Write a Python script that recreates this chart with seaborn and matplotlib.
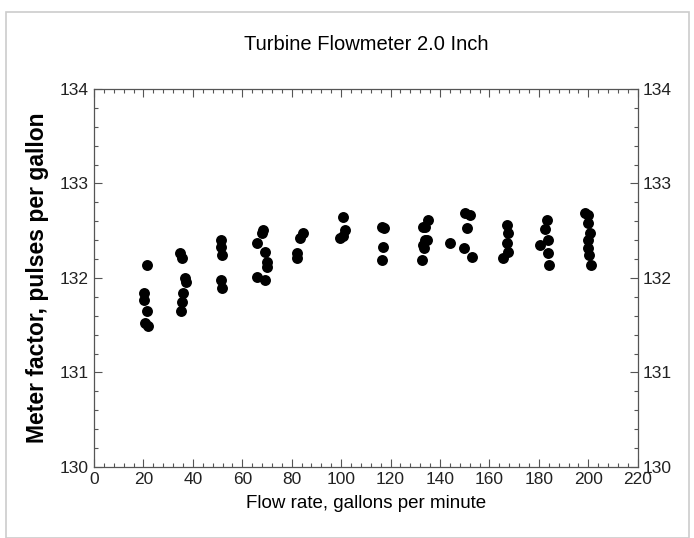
import numpy as np
import pandas as pd
import matplotlib
matplotlib.use('Agg')
import matplotlib.pyplot as plt
from matplotlib.ticker import MultipleLocator
from matplotlib.patches import Rectangle
import seaborn as sns

# readings
flow = [
    21.4, 20.2, 20.4, 21.6, 20.6, 21.8,
    34.8, 35.6, 36.8, 37.2, 36.0, 35.6, 35.2,
    51.4, 51.4, 51.8, 51.2, 51.8,
    68.3, 68.0, 65.9, 69.2, 70.0, 70.0, 65.9, 69.2,
    84.5, 83.5, 82.0, 82.0,
    100.7, 101.5, 99.6, 100.6,
    116.5, 117.2, 116.9, 116.5,
    133.0, 133.8, 133.0, 132.6, 135.0, 133.8, 134.6, 133.4,
    150.0, 152.0, 151.0, 144.2, 149.8, 152.9,
    167.0, 167.4, 167.0, 167.4, 165.4,
    183.2, 182.4, 183.6, 180.3, 183.6, 184.0,
    198.5, 199.7, 199.7, 200.5, 199.7, 199.7, 200.1, 201.0,
]
factor = [
    132.14, 131.84, 131.77, 131.65, 131.52, 131.49,
    132.26, 132.21, 132.00, 131.96, 131.84, 131.75, 131.65,
    132.40, 132.33, 132.24, 131.98, 131.89,
    132.51, 132.48, 132.37, 132.28, 132.17, 132.12, 132.01, 131.98,
    132.48, 132.42, 132.26, 132.21,
    132.65, 132.51, 132.42, 132.44,
    132.54, 132.53, 132.33, 132.19,
    132.54, 132.40, 132.35, 132.19, 132.61, 132.54, 132.40, 132.32,
    132.69, 132.67, 132.53, 132.37, 132.32, 132.22,
    132.56, 132.48, 132.37, 132.28, 132.21,
    132.61, 132.52, 132.40, 132.35, 132.26, 132.14,
    132.69, 132.67, 132.58, 132.48, 132.40, 132.32, 132.24, 132.14,
]
x_ticks = list(range(0, 221, 20))
y_ticks = [130, 131, 132, 133, 134]

df = pd.DataFrame({"flow": flow, "factor": factor})

sns.set_theme(style="ticks")
plt.rcParams['font.family'] = ['Liberation Sans', 'DejaVu Sans']
plt.rcParams['text.color'] = 'black'
plt.rcParams['axes.labelcolor'] = 'black'
plt.rcParams['xtick.labelcolor'] = '#222222'
plt.rcParams['ytick.labelcolor'] = '#222222'

fig = plt.figure(figsize=(6.94, 5.38), dpi=100, facecolor="white")
ax = fig.add_axes([0.1354, 0.132, 0.7836, 0.7026])

sns.scatterplot(data=df, x="flow", y="factor", ax=ax,
                color="black", s=62, edgecolor="black", linewidth=0)

ax.set_xlim(0, 220)
ax.set_ylim(130, 134)
ax.set_xticks(x_ticks)
ax.set_yticks(y_ticks)
ax.xaxis.set_minor_locator(MultipleLocator(4))
ax.yaxis.set_minor_locator(MultipleLocator(0.2))
ax.tick_params(which="both", direction="in", top=True, right=True,
               labelright=True, color="#555555", labelsize=12.5)
ax.tick_params(which="major", length=6, width=0.8)
ax.tick_params(which="minor", length=3, width=0.8)
for sp in ax.spines.values():
    sp.set_color("#555555")
    sp.set_linewidth(0.9)

ax.set_title("Turbine Flowmeter 2.0 Inch", fontsize=14.5, pad=28)
ax.set_xlabel("Flow rate, gallons per minute", fontsize=13.5, labelpad=6)
ax.set_ylabel("Meter factor, pulses per gallon", fontsize=16.5,
              fontweight="bold", labelpad=8)

# light frame around the whole graphic like the scanned original
fig.patches.append(Rectangle((0.008, 0.0), 0.985, 0.978, transform=fig.transFigure,
                             fill=False, edgecolor="#cccccc", linewidth=1.2))

fig.savefig("out.png", dpi=100, facecolor="white")
